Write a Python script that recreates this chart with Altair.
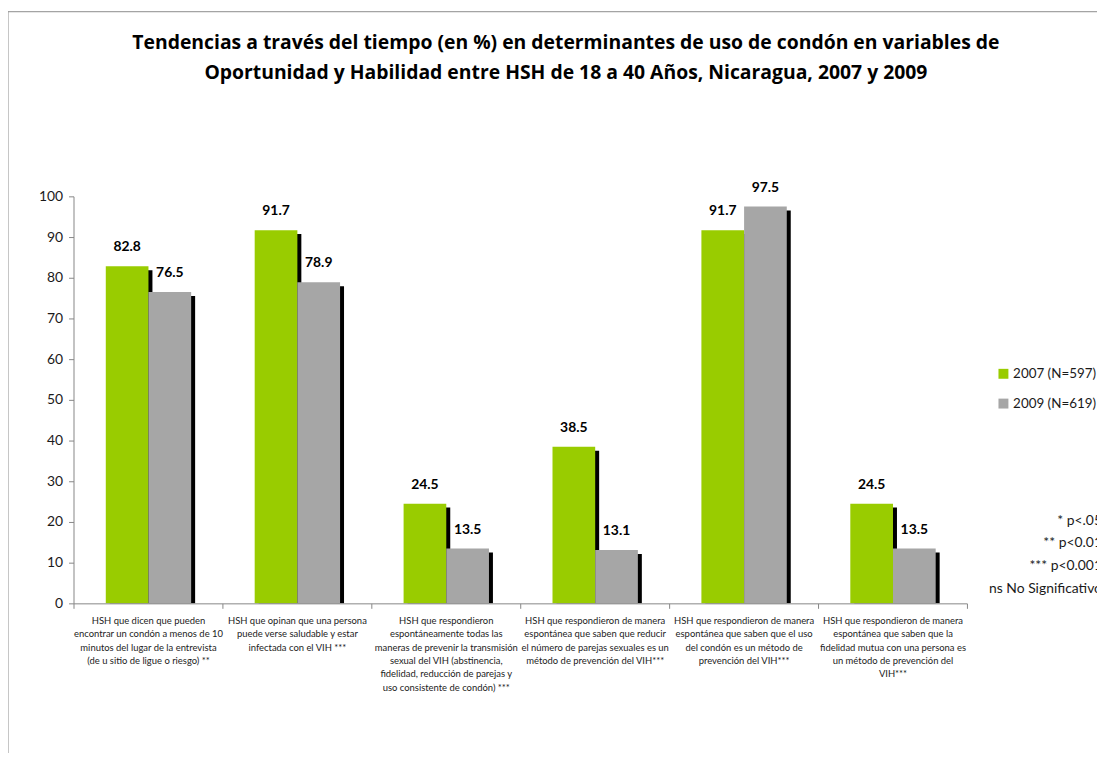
import altair as alt
import pandas as pd

title_lines = [
    "Tendencias a través del tiempo (en %) en determinantes de uso de condón en variables de",
    "Oportunidad y Habilidad entre HSH de 18 a 40 Años, Nicaragua,  2007 y 2009",
]

categories = [
    "HSH que dicen que pueden|encontrar un condón a menos de 10|minutos del lugar de la entrevista|(de u sitio de ligue o riesgo) **",
    "HSH que opinan que una persona|puede verse saludable y estar|infectada con el VIH ***",
    "HSH que respondieron|espontáneamente todas las|maneras de prevenir la transmisión|sexual del VIH (abstinencia,|fidelidad, reducción de parejas y|uso consistente de condón) ***",
    "HSH que respondieron de manera|espontánea que saben que  reducir|el número de parejas sexuales es un|método de prevención del VIH***",
    "HSH que respondieron de manera|espontánea que saben que  el uso|del condón es un método de|prevención del VIH***",
    "HSH que respondieron de manera|espontánea que saben que  la|fidelidad mutua con una persona es|un método de prevención del|VIH***",
]

series = ["2007 (N=597)", "2009 (N=619)"]
values_2007 = [82.8, 91.7, 24.5, 38.5, 91.7, 24.5]
values_2009 = [76.5, 78.9, 13.5, 13.1, 97.5, 13.5]
colors = ["#99CC00", "#A6A6A6"]

notes = ["* p<.05", "** p<0.01", "*** p<0.001", "ns No Significativo"]

FONT = "Lato"
TITLE_FONT = "Open Sans"

rows = []
for c, v in zip(categories, values_2007):
    rows.append({"categoria": c, "serie": series[0], "valor": v})
for c, v in zip(categories, values_2009):
    rows.append({"categoria": c, "serie": series[1], "valor": v})
df = pd.DataFrame(rows)

base = alt.Chart(df)

x_enc = alt.X(
    "categoria:N",
    sort=categories,
    scale=alt.Scale(paddingInner=0, paddingOuter=0),
    axis=alt.Axis(
        title=None,
        labelExpr="split(datum.label, '|')",
        labelAngle=0,
        labelFont=FONT,
        labelFontSize=9.5,
        labelLineHeight=13.5,
        labelColor="#222222",
        labelPadding=7,
        labelLimit=0,
        labelOverlap=False,
        labelBound=False,
        labelFlush=False,
        tickBand="extent",
        tickSize=5,
        tickColor="#868686",
        domainColor="#868686",
        zindex=1,
    ),
)
y_enc = alt.Y(
    "valor:Q",
    scale=alt.Scale(domain=[0, 100], nice=False),
    axis=alt.Axis(
        title=None,
        values=list(range(0, 101, 10)),
        grid=False,
        labelFont=FONT,
        labelFontSize=14,
        labelColor="#1a1a1a",
        labelPadding=6,
        tickSize=5,
        tickColor="#868686",
        domainColor="#868686",
    ),
)

BW = 43
OFF = [-21, 22]
SH = 4

layers = []

one = pd.DataFrame({"k": [0]})

# outer frame of the chart
border = alt.Chart(one).mark_rect(
    fillOpacity=0, stroke="#8c8c8c", strokeWidth=1
).encode(
    x=alt.value(-66), x2=alt.value(1200), y=alt.value(-186), y2=alt.value(800)
)
layers.append(border)

# title
title_layer = alt.Chart(one).mark_text(
    align="center",
    baseline="alphabetic",
    lineHeight=30,
    font=TITLE_FONT,
    fontSize=19.5,
    fontWeight="bold",
    color="black",
).encode(x=alt.value(496), y=alt.value(-148), text=alt.value(title_lines))
layers.append(title_layer)

# dark drop shadow behind each bar (clipped at the axis)
for i, s in enumerate(series):
    layers.append(
        base.transform_filter(alt.datum.serie == s)
        .mark_bar(color="black", width=BW, xOffset=OFF[i] + SH, yOffset=SH, clip=True)
        .encode(x=x_enc, y=y_enc)
    )

for i, s in enumerate(series):
    layers.append(
        base.transform_filter(alt.datum.serie == s)
        .mark_bar(width=BW, xOffset=OFF[i])
        .encode(
            x=x_enc,
            y=y_enc,
            color=alt.Color(
                "serie:N",
                scale=alt.Scale(domain=series, range=colors),
                legend=alt.Legend(
                    title=None,
                    orient="none",
                    legendX=930,
                    legendY=172,
                    symbolType="square",
                    symbolSize=100,
                    symbolStrokeWidth=0,
                    labelFont=FONT,
                    labelFontSize=13.5,
                    labelOffset=3,
                    labelColor="#1a1a1a",
                    rowPadding=15,
                ),
            ),
        )
    )

for i, s in enumerate(series):
    layers.append(
        base.transform_filter(alt.datum.serie == s)
        .mark_text(
            xOffset=OFF[i],
            baseline="bottom",
            dy=-12,
            font=FONT,
            fontSize=14,
            fontWeight="bold",
            color="black",
        )
        .encode(x=x_enc, y=y_enc, text=alt.Text("valor:Q", format=".1f"))
    )

note_layer = alt.Chart(one).mark_text(
    align="right",
    baseline="top",
    lineHeight=22.7,
    font=FONT,
    fontSize=14,
    color="#1a1a1a",
).encode(x=alt.value(1036), y=alt.value(320), text=alt.value(notes))
layers.append(note_layer)

chart = alt.layer(*layers).properties(
    width=900,
    height=410,
    padding={"left": 66, "top": 187, "right": 131, "bottom": 148},
    autosize=alt.AutoSizeParams(type="none"),
).configure(background="white").configure_view(stroke=None, strokeWidth=0)

chart.save("out.html", embed_options={"renderer": "svg", "actions": False})
